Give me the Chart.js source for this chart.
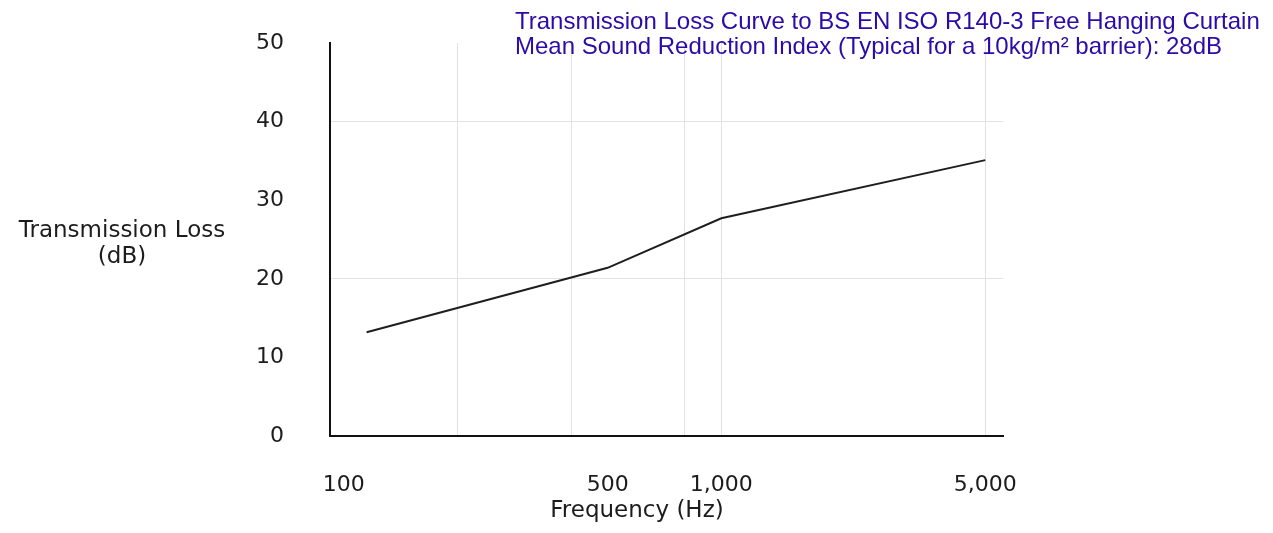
<!DOCTYPE html>
<html>
<head>
<meta charset="utf-8">
<script src="https://cdn.jsdelivr.net/npm/chart.js@4/dist/chart.umd.min.js"></script>
<style>
    body { margin: 0; background: #fff; }
    #wrap { position: relative; width: 1273px; height: 533px; }
    .label { position: absolute; font-family: "DejaVu Sans", sans-serif; font-size: 23px; line-height: 26px; color: #1c1c1c; text-align: center; }
    #title { position: absolute; left: 515px; top: 8px; font-family: "Liberation Sans", Arial, sans-serif; font-size: 24px; line-height: 25px; color: #2b0aa8; white-space: nowrap; }
</style>
</head>
<body>
<div id="wrap">
    <canvas id="tlChart"></canvas>
    <div id="title">Transmission Loss Curve to BS EN ISO R140-3 Free Hanging Curtain<br>Mean Sound Reduction Index (Typical for a 10kg/m² barrier): 28dB</div>
    <div class="label" style="left:0; top:216px; width:244px;">Transmission Loss<br>(dB)</div>
    <div class="label" style="left:437px; top:496px; width:400px;">Frequency (Hz)</div>
</div>
<script>
/* ============================================================
   Data
============================================================ */
const frequencies = [115, 500, 1000, 5000];
const transmissionLoss = [13.2, 21.4, 27.7, 35.1];

const xTicks = [100, 200, 400, 500, 800, 1000, 5000];
const xTickLabels = [100, 500, 1000, 5000];
const xGridLines = [200, 400, 800, 1000, 5000];
const yGridLines = [20, 40];

/* ============================================================
   Chart
============================================================ */
const axisFont = { family: "DejaVu Sans", size: 22 };
const gridColor = "#e2e2e2";

new Chart(document.getElementById("tlChart"), {
    type: "line",
    data: {
        datasets: [{
            data: frequencies.map((f, i) => ({ x: f, y: transmissionLoss[i] })),
            borderColor: "#1e1e1e",
            borderWidth: 2,
            pointRadius: 0,
            tension: 0
        }]
    },
    options: {
        responsive: true,
        maintainAspectRatio: false,
        animation: false,
        layout: { padding: { top: 43, right: 270, bottom: 0, left: 0 } },
        plugins: {
            legend: { display: false },
            tooltip: { enabled: false }
        },
        scales: {
            x: {
                type: "logarithmic",
                min: 92,
                max: 5570,
                bounds: "data",
                afterBuildTicks: scale => {
                    scale.ticks = xTicks.map(v => ({ value: v }));
                },
                afterFit: scale => { scale.height = 97; },
                ticks: {
                    autoSkip: false,
                    maxRotation: 0,
                    padding: 36,
                    color: "#1c1c1c",
                    font: axisFont,
                    callback: value => xTickLabels.includes(value) ? value.toLocaleString("en-US") : ""
                },
                grid: {
                    drawTicks: false,
                    lineWidth: 1,
                    color: ctx => xGridLines.includes(ctx.tick && ctx.tick.value) ? gridColor : "transparent"
                },
                border: { color: "#111", width: 2 }
            },
            y: {
                min: 0,
                max: 50,
                afterFit: scale => {
                    // tick padding should only push labels left, not the plot down
                    scale.width = 330;
                    scale.paddingTop = 14;
                    scale.paddingBottom = 14;
                },
                ticks: {
                    stepSize: 10,
                    padding: 46,
                    color: "#1c1c1c",
                    font: axisFont
                },
                grid: {
                    drawTicks: false,
                    lineWidth: 1,
                    color: ctx => yGridLines.includes(ctx.tick && ctx.tick.value) ? gridColor : "transparent"
                },
                border: { color: "#111", width: 2 }
            }
        }
    }
});
</script>
</body>
</html>
